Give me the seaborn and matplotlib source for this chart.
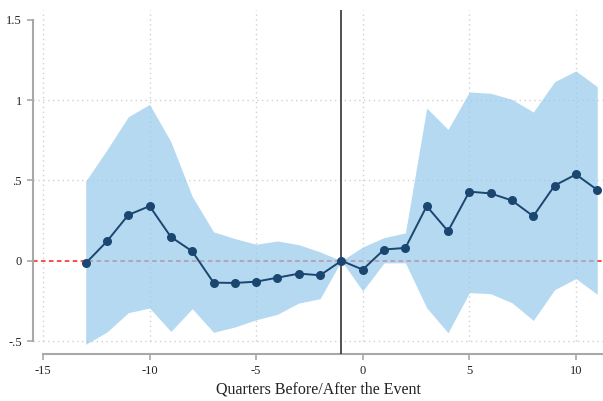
import matplotlib
matplotlib.use("Agg")
import matplotlib.pyplot as plt
import numpy as np
import pandas as pd
import seaborn as sns

# Event-study estimates by quarter relative to the event
quarters = [-13, -12, -11, -10, -9, -8, -7, -6, -5, -4, -3, -2, -1,
            0, 1, 2, 3, 4, 5, 6, 7, 8, 9, 10, 11]
coef = [-0.016, 0.121, 0.285, 0.340, 0.148, 0.059, -0.136, -0.138, -0.130,
        -0.105, -0.080, -0.090, 0.0, -0.055, 0.070, 0.080, 0.340, 0.184,
        0.430, 0.419, 0.375, 0.277, 0.468, 0.537, 0.441]
ci_upper = [0.495, 0.690, 0.896, 0.973, 0.740, 0.400, 0.180, 0.138, 0.103,
            0.123, 0.100, 0.055, 0.0, 0.086, 0.144, 0.173, 0.950, 0.817,
            1.050, 1.042, 1.004, 0.925, 1.114, 1.181, 1.083]
ci_lower = [-0.520, -0.443, -0.323, -0.294, -0.440, -0.298, -0.445, -0.412,
            -0.367, -0.333, -0.263, -0.236, 0.0, -0.188, -0.013, -0.013,
            -0.293, -0.448, -0.198, -0.205, -0.261, -0.371, -0.180, -0.111,
            -0.209]

xticks = [-15, -10, -5, 0, 5, 10]
yticks = [-0.5, 0, 0.5, 1, 1.5]
ytick_labels = ["-.5", "0", ".5", "1", "1.5"]
event_line = -1
xlabel = "Quarters Before/After the Event"

df = pd.DataFrame({"q": quarters, "b": coef, "hi": ci_upper, "lo": ci_lower})

sns.set_theme(style="white")
plt.rcParams["font.family"] = ["Liberation Serif", "DejaVu Serif"]

navy = "#1a4670"
band = "#96caeb"
spine_grey = "#a8a8a8"
grid_grey = "#d0d0d0"

fig = plt.figure(figsize=(6.03, 4.01), dpi=100)
ax = fig.add_axes([33 / 603, 47 / 401, 570 / 603, 344 / 401])
xmin, xmax = -15.47, 11.27
ymin, ymax = -0.58, 1.56
ax.set_xlim(xmin, xmax)
ax.set_ylim(ymin, ymax)

# dotted grid
for yv in [-0.5, 0.5, 1]:
    ax.hlines(yv, xmin, xmax, colors=grid_grey, linestyles=(0, (1, 2.5)),
              linewidth=1.0, zorder=1)
for xv in xticks:
    ax.vlines(xv, -0.5, ymax, colors=grid_grey, linestyles=(0, (1, 2.5)),
              linewidth=1.0, zorder=1)

# zero reference line
ax.axhline(0, color="#ff1a1a", linestyle=(0, (3, 2.2)), linewidth=1.1, zorder=2)

# confidence band
ax.fill_between(df["q"], df["lo"], df["hi"], color=band, alpha=0.7,
                linewidth=0, zorder=3)

# event marker
ax.axvline(event_line, color="#222222", linewidth=1.1, zorder=4)

sns.lineplot(data=df, x="q", y="b", ax=ax, color=navy, marker="o",
             markersize=6.5, markeredgecolor=navy, markeredgewidth=0,
             linewidth=1.4, zorder=5)

# axes styling
for s in ["top", "right"]:
    ax.spines[s].set_visible(False)
for s in ["left", "bottom"]:
    ax.spines[s].set_color(spine_grey)
    ax.spines[s].set_linewidth(1.5)
ax.spines["left"].set_bounds(-0.5, 1.5)
ax.spines["bottom"].set_bounds(-15, xmax)

ax.set_xticks(xticks)
ax.set_xticklabels([str(v) for v in xticks])
ax.set_yticks(yticks)
ax.set_yticklabels(ytick_labels)
ax.tick_params(axis="both", which="major", length=4, width=1.2,
               color=spine_grey, labelsize=9, labelcolor="#222222", pad=4,
               bottom=True, left=True)
ax.set_xlabel(xlabel, fontsize=11.5, color="#222222", labelpad=3)
ax.set_ylabel("")

fig.savefig("out.png", dpi=100)
